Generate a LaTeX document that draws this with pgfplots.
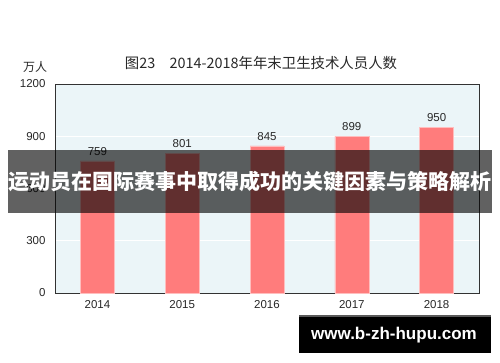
\documentclass[border=0pt]{standalone}
\usepackage{fontspec}
\setmainfont{Liberation Sans}
\newfontfamily\cjk{Noto Sans CJK SC}
\usepackage{pgfplots}
\pgfplotsset{compat=1.18}
\definecolor{barred}{RGB}{255,124,124}
\definecolor{baredge}{RGB}{255,190,190}
\definecolor{plotbg}{RGB}{235,245,248}
\definecolor{axdark}{RGB}{50,50,50}
\definecolor{txt}{RGB}{40,40,40}
\begin{document}
\begin{tikzpicture}
\path[use as bounding box, fill=white] (0pt,0pt) rectangle (500pt,362pt);
\begin{axis}[
  at={(55pt,69pt)}, anchor=south west,
  scale only axis, width=424pt, height=209pt,
  xmin=-0.5, xmax=4.5, ymin=0, ymax=1200,
  xtick={0,1,2,3,4}, xticklabels={2014,2015,2016,2017,2018},
  ytick={0,300,600,900,1200},
  major tick length=0pt,
  axis background/.style={fill=plotbg},
  axis line style={axdark, line width=0.8pt},
  ymajorgrids, grid style={white, line width=1pt},
  ticklabel style={font=\fontsize{11.5}{12}\selectfont, text=txt},
  /pgf/number format/assume math mode=true,
  /pgf/number format/1000 sep={},
  yticklabel style={xshift=-6pt},
  xticklabel style={yshift=-4pt},
  nodes near coords,
  nodes near coords style={font=\fontsize{11.5}{12}\selectfont, text=txt, yshift=2pt, /pgf/number format/assume math mode=true},
]
\addplot[ybar, bar width=34pt, fill=barred, draw=baredge, line width=0.6pt]
  coordinates {(0,759) (1,801) (2,845) (3,899) (4,950)};
\end{axis}
\node[font=\cjk\fontsize{14.4}{14.4}\selectfont, text=txt] at (261pt,299pt) {图23\quad 2014-2018年年末卫生技术人员人数};
\node[font=\cjk\fontsize{12}{12}\selectfont, text=txt] at (35pt,295pt) {万人};
\fill[black, fill opacity=0.62] (8pt,149pt) rectangle (492pt,212pt);
\node[white, font=\cjk\bfseries\fontsize{21}{21}\selectfont] at (250pt,180.5pt) {运动员在国际赛事中取得成功的关键因素与策略解析};
\fill[black] (299pt,9pt) rectangle (491pt,47pt);
\fill[black!65] (299pt,45pt) rectangle (491pt,47.5pt);
\node[white, font=\bfseries\fontsize{17}{17}\selectfont] at (394pt,26.5pt) {www.b-zh-hupu.com};
\end{tikzpicture}
\end{document}
